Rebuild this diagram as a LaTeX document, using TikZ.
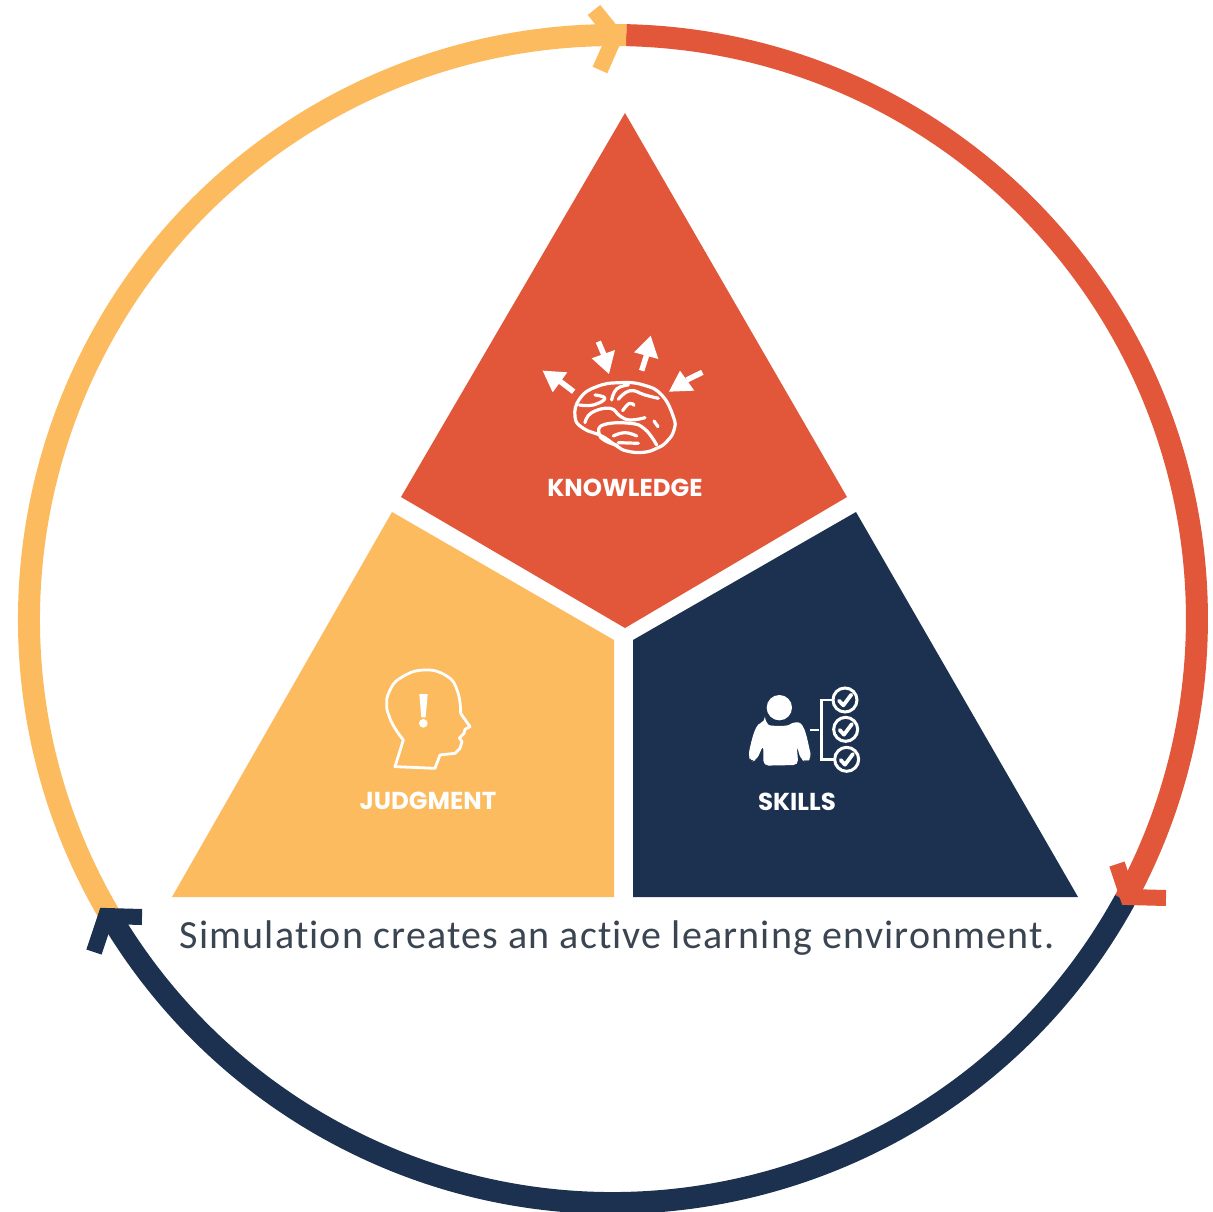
\documentclass[tikz,border=0pt]{standalone}
\usepackage{fontspec}
\setmainfont{Carlito}
\newfontfamily\labelfont{Poppins}
\newfontfamily\capfont[LetterSpace=2.9,Ligatures=NoCommon]{Carlito}
\definecolor{redc}{HTML}{E2563A}
\definecolor{yelc}{HTML}{FDBB5F}
\definecolor{navc}{HTML}{1B314F}
\definecolor{capc}{HTML}{3A4551}
\begin{document}
\begin{tikzpicture}[x=1pt,y=-1pt,
  ring/.style={line width=22pt,line cap=butt},
  chev/.style={line width=16pt,line cap=butt,miter limit=10},
  lab/.style={text=white,inner sep=0pt,font=\labelfont\bfseries\fontsize{24.5}{25}\selectfont},
  iconfat/.style={draw=white,line width=3.2pt,line join=round,line cap=round},
  arrowtail/.style={draw=white,line width=5.5pt}]
\useasboundingbox (0,0) rectangle (1213,1212);
\fill[white] (0,0) rectangle (1213,1212);
% ring
\coordinate (tipT) at (626.2,35.15);
\coordinate (tipR) at (1124.7,900.3);
\coordinate (tipL) at (110.9,917.2);
\draw[ring,redc] (tipT) arc[start angle=-88.7,end angle=28.8,radius=584];
\draw[ring,navc] (tipR) arc[start angle=28.8,end angle=149.3,radius=584];
\draw[ring,yelc] (tipL) arc[start angle=149.3,end angle=271.3,radius=584];
\coordinate (chT) at (615,36);
\coordinate (chR) at (1128,897);
\coordinate (chL) at (106,916);
\draw[chev,yelc] (594,10) -- (chT) -- (600,70);
\draw[chev,redc] (1117,864) -- (chR) -- (1166,898);
\draw[chev,navc] (142,917) -- (chL) -- (94,952);
% wedges
\fill[redc] (625,113) -- (847,497) -- (625,628) -- (401,497) -- cycle;
\fill[yelc] (392,512) -- (614,640) -- (614,897) -- (172,897) -- cycle;
\fill[navc] (856,512) -- (633,640) -- (633,897) -- (1078,897) -- cycle;
% labels
\node[lab] (know) at (625,488) {KNOWLEDGE};
\node[lab] (judg) at (428,801) {JUDGMENT};
\node[lab] (skil) at (797,802) {SKILLS};
\node[inner sep=0pt,text=capc,font=\capfont\fontsize{40}{40}\selectfont] (cap) at (617,938) {Simulation creates an active learning environment.};
% brain icon
\begin{scope}[shift={(530,320)},x=0.3333pt,y=-0.3333pt]
\fill[white] (38,152) -- (112,157) -- (68,217) -- cycle;
\draw[arrowtail] (85,180) -- (131,215);
\fill[white] (237,162) -- (185,115) -- (255,90) -- cycle;
\draw[arrowtail] (222,105) -- (205,65);
\fill[white] (362,47) -- (312,97) -- (385,117) -- cycle;
\draw[arrowtail] (350,105) -- (335,152);
\fill[white] (417,215) -- (450,152) -- (493,212) -- cycle;
\draw[arrowtail] (470,180) -- (517,157);
\draw[iconfat] plot[smooth cycle,tension=0.8] coordinates {(135,290) (150,235) (200,200) (270,188) (340,195) (395,225) (430,290) (432,330) (410,365) (380,385) (340,397) (290,393) (260,378) (215,348) (160,325)};
\draw[iconfat] plot[smooth,tension=0.8] coordinates {(262,376) (225,362) (207,340) (222,314) (300,310) (345,328) (380,375)};
\draw[iconfat] plot[smooth,tension=0.8] coordinates {(250,348) (285,338) (320,348)};
\draw[iconfat] (265,368) -- (325,370);
\draw[iconfat] plot[smooth,tension=0.8] coordinates {(165,308) (185,278) (240,265) (270,288) (300,300) (345,293)};
\draw[iconfat] plot[smooth,tension=0.8] coordinates {(148,255) (190,255) (225,235) (195,225)};
\draw[iconfat] plot[smooth,tension=0.8] coordinates {(245,240) (260,207) (295,195)};
\draw[iconfat] plot[smooth,tension=0.8] coordinates {(265,238) (300,212) (345,225) (385,235)};
\draw[iconfat] plot[smooth,tension=0.8] coordinates {(278,272) (298,250) (312,256)};
\draw[iconfat] (372,303) -- (384,320);
\end{scope}
% head icon
\begin{scope}[shift={(340,650)},x=0.3333pt,y=-0.3333pt]
\draw[iconfat,line width=2.8pt] plot[smooth,tension=0.8] coordinates {(190,270) (165,235) (148,200) (140,165) (148,125) (180,85) (250,60) (320,78) (353,125) (362,190)};
\draw[iconfat,line width=2.8pt] (362,190) -- (390,230) -- (375,238) -- (372,250) -- (358,264) -- (366,275) -- (360,295) -- (345,310) -- (300,315) -- (285,355) -- (165,350) -- (190,270);
\fill[white] (238,132) -- (263,132) -- (257,202) -- (244,202) -- cycle;
\fill[white] (250,220) circle[radius=13];
\end{scope}
% skills icon
\begin{scope}[shift={(730,670)},x=0.3333pt,y=-0.3333pt]
\fill[white] (148,113) circle[radius=38];
\fill[white,rounded corners=5pt] (105,155) .. controls (120,168) and (170,170) .. (190,155) .. controls (225,160) and (232,210) .. (245,265) -- (228,276) -- (212,268) -- (200,225) -- (205,285) -- (100,287) -- (100,225) -- (80,270) -- (62,276) -- (55,255) .. controls (65,210) and (75,165) .. (105,155) -- cycle;
\draw[iconfat,line width=2.4pt,line cap=butt] (240,180) -- (266,180);
\draw[iconfat,line width=2.4pt,line cap=butt,line join=miter] (310,90) -- (275,90) -- (275,268) -- (315,268);
\foreach \nm/\px/\py in {a/345/90,b/347/178,c/350/268}{
  \fill[navc,draw=white,line width=3pt] (\px,\py) circle[radius=36];
  \draw[white,line width=3.8pt,line cap=round,line join=round] (\px-18,\py+2) -- (\px-5,\py+16) -- (\px+19,\py-16);
}
\end{scope}
\end{tikzpicture}
\end{document}
